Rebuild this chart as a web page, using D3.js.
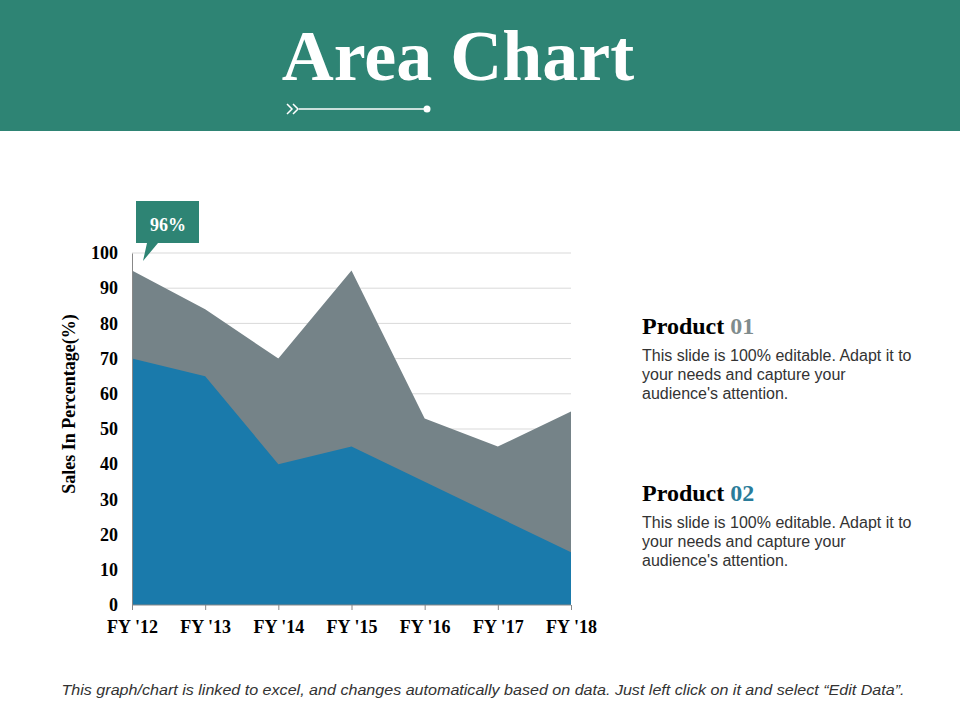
<!DOCTYPE html>
<html><head><meta charset="utf-8">
<script src="https://cdn.jsdelivr.net/npm/d3@7"></script>
<style>body{margin:0;background:#fff}svg{display:block}</style>
</head><body>
<svg id="c" width="960" height="720"></svg>
<script>
const categories = ["FY '12","FY '13","FY '14","FY '15","FY '16","FY '17","FY '18"];
const product01 = [95, 84, 70, 95, 53, 45, 55];
const product02 = [70, 65, 40, 45, 35, 25, 15];
const yTicks = [0,10,20,30,40,50,60,70,80,90,100];
const calloutLabel = "96%";

const svg = d3.select("#c");
const serif = "'Liberation Serif','Times New Roman',serif";
const sans = "'Liberation Sans',Arial,sans-serif";

// header
svg.append("rect").attr("x",0).attr("y",0).attr("width",960).attr("height",131).attr("fill","#2E8474");
svg.append("text").attr("x",458).attr("y",80).attr("text-anchor","middle")
  .attr("font-family",serif).attr("font-weight","bold").attr("font-size",72).attr("fill","#fff").text("Area Chart");
const deco = svg.append("g").attr("stroke","#fff").attr("fill","none").attr("stroke-width",1.5);
deco.append("path").attr("d","M287,104 L292,109 L287,114 M293,104 L298,109 L293,114");
deco.append("line").attr("x1",299).attr("x2",426).attr("y1",109).attr("y2",109);
svg.append("circle").attr("cx",427).attr("cy",109).attr("r",3.5).attr("fill","#fff");

// chart
const x = d3.scalePoint().domain(categories).range([132,571]);
const y = d3.scaleLinear().domain([0,100]).range([605,253]);

svg.append("g").selectAll("line").data(yTicks.filter(d=>d>0)).join("line")
  .attr("x1",132).attr("x2",571).attr("y1",d=>y(d)).attr("y2",d=>y(d))
  .attr("stroke","#d9d9d9").attr("stroke-width",1);

const area = d3.area().x((d,i)=>x(categories[i])).y0(y(0)).y1(d=>y(d));
svg.append("path").datum(product01).attr("d",area).attr("fill","#758388");
svg.append("path").datum(product02).attr("d",area).attr("fill","#1A7AAB");

// y axis
const yAxis = svg.append("g").attr("transform","translate(132,0)")
  .call(d3.axisLeft(y).tickValues(yTicks).tickSize(0).tickPadding(14));
yAxis.select(".domain").attr("stroke","#888");
yAxis.selectAll("text").attr("font-family",serif).attr("font-weight","bold").attr("font-size",18).attr("fill","#000");

// x axis
const xAxis = svg.append("g").attr("transform","translate(0,605)")
  .call(d3.axisBottom(x).tickSize(5).tickPadding(10));
xAxis.select(".domain").attr("stroke","#888").attr("d","M132,0H571");
xAxis.selectAll(".tick line").attr("stroke","#888");
xAxis.selectAll("text").attr("font-family",serif).attr("font-weight","bold").attr("font-size",18).attr("fill","#000");

svg.append("text").attr("transform","translate(75,404) rotate(-90)").attr("text-anchor","middle")
  .attr("font-family",serif).attr("font-weight","bold").attr("font-size",18).attr("fill","#000")
  .text("Sales In Percentage(%)");

// callout
const cx = x(categories[0]);
svg.append("path").attr("d",`M${cx+4},201 H${cx+67} V243 H${cx+26} L${cx+11},261 L${cx+15},243 H${cx+4} Z`).attr("fill","#2E8474");
svg.append("text").attr("x",cx+36).attr("y",231).attr("text-anchor","middle")
  .attr("font-family",serif).attr("font-weight","bold").attr("font-size",18).attr("fill","#fff").text(calloutLabel);

// legend text
const products = [{n:"01",c:"#7F8C8D",y:334},{n:"02",c:"#2A7C9A",y:501}];
const body = ["This slide is 100% editable. Adapt it to","your needs and capture your","audience's attention."];
products.forEach(p=>{
  const t = svg.append("text").attr("x",642).attr("y",p.y).attr("font-family",serif).attr("font-weight","bold").attr("font-size",24);
  t.append("tspan").attr("fill","#000").text("Product ");
  t.append("tspan").attr("fill",p.c).text(p.n);
  body.forEach((l,i)=>svg.append("text").attr("x",642).attr("y",p.y+27+i*19)
    .attr("font-family",sans).attr("font-size",16).attr("fill","#333").text(l));
});

// footer
svg.append("text").attr("x",483).attr("y",695).attr("text-anchor","middle")
  .attr("font-family",sans).attr("font-style","italic").attr("font-size",14).attr("fill","#333")
  .attr("textLength",843).attr("lengthAdjust","spacingAndGlyphs")
  .text("This graph/chart is linked to excel, and changes automatically based on data. Just left click on it and select “Edit Data”.");
</script>
</body></html>
